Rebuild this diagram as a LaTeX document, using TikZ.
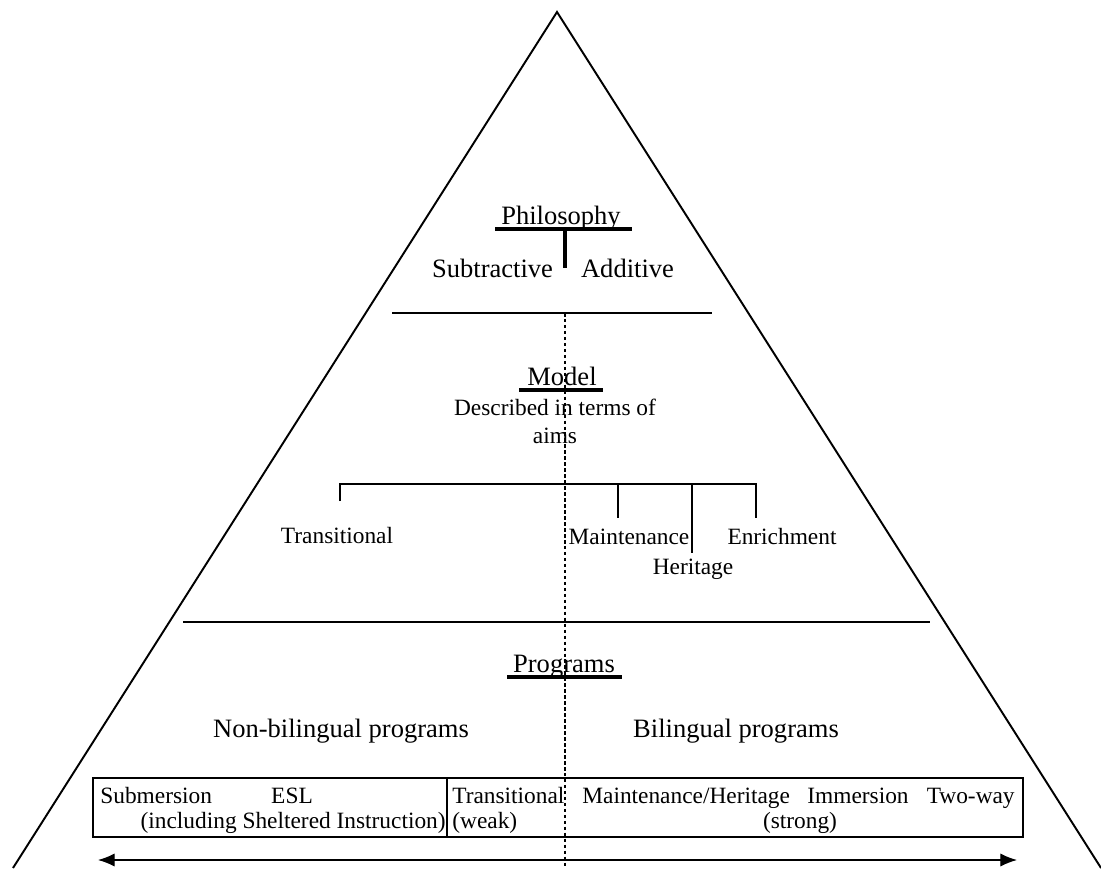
\documentclass[tikz,border=0pt]{standalone}
\usepackage{fontspec}
\setmainfont{Liberation Serif}
\usepackage{tikz}
\usetikzlibrary{arrows.meta}
\tikzset{>={Latex[length=9.5pt,width=7.5pt]}}
\tikzstyle{sideline}=[line width=1.1pt]
\tikzstyle{divider}=[line width=0.9pt]
\tikzstyle{uline}=[line width=2.2pt]
\tikzstyle{branch}=[line width=0.7pt]
\tikzstyle{midline}=[line width=0.6pt,dash pattern=on 2pt off 1.4pt]
\tikzstyle{head}=[font=\fontsize{15.1}{18}\selectfont,inner sep=0pt,anchor=base]
\tikzstyle{item}=[font=\fontsize{13.3}{15}\selectfont,inner sep=0pt,anchor=base]

\begin{document}
\begin{tikzpicture}[x=0.02cm,y=-0.02cm]
  \useasboundingbox (0,0) rectangle (1101,868);
  \def\cx{565}
  \coordinate (apex) at (557,12);
  \coordinate (bl) at (13,868);
  \coordinate (br) at (1101,868);

  % pyramid
  \draw[sideline] (bl) -- (apex) -- (br);
  \coordinate (d1l) at (392,313);
  \coordinate (d1r) at (712,313);
  \coordinate (d2l) at (183,622);
  \coordinate (d2r) at (930,622);
  \draw[divider] (d1l) -- (d1r);
  \draw[divider] (d2l) -- (d2r);
  \coordinate (mtop) at (\cx,313);
  \coordinate (mbot) at (\cx,868);
  \draw[midline] (mtop) -- (mbot);

  % Philosophy
  \node[head] (phil) at (561,224) {Philosophy};
  \coordinate (philL) at (495,229);
  \coordinate (philR) at (632,229);
  \coordinate (philM) at (\cx,229);
  \coordinate (philD) at (\cx,268);
  \draw[uline] (philL) -- (philR);
  \draw[uline] (philM) -- (philD);
  \node[head] (sub) at (492.5,277) {Subtractive};
  \node[head] (add) at (627.5,277) {Additive};

  % Model
  \node[head] (model) at (562,385) {Model};
  \coordinate (modelL) at (519,390);
  \coordinate (modelR) at (603,390);
  \draw[uline] (modelL) -- (modelR);
  \node[item] (desc) at (555,415) {Described in terms of};
  \node[item] (aims) at (555,443) {aims};

  \coordinate (bT) at (340,484);
  \coordinate (bM) at (618,484);
  \coordinate (bH) at (692,484);
  \coordinate (bE) at (756,484);
  \coordinate (tT) at (340,501);
  \coordinate (tM) at (618,518);
  \coordinate (tH) at (692,553);
  \coordinate (tE) at (756,518);
  \draw[branch] (tT) -- (bT) -- (bE) -- (tE);
  \draw[branch] (bM) -- (tM);
  \draw[branch] (bH) -- (tH);
  \node[item] (trans) at (337,543) {Transitional};
  \node[item] (maint) at (629,544) {Maintenance};
  \node[item] (herit) at (693,574) {Heritage};
  \node[item] (enrich) at (782,544) {Enrichment};

  % Programs
  \node[head] (prog) at (564,672) {Programs};
  \coordinate (progL) at (507,677);
  \coordinate (progR) at (622,677);
  \draw[uline] (progL) -- (progR);
  \node[head] (nonbil) at (341,737) {Non-bilingual programs};
  \node[head] (bil) at (736,737) {Bilingual programs};

  \coordinate (boxNW) at (93,778);
  \coordinate (boxSE) at (1023,837);
  \coordinate (sepT) at (447,778);
  \coordinate (sepB) at (447,837);
  \draw[branch] (boxNW) rectangle (boxSE);
  \draw[branch] (sepT) -- (sepB);
  \node[item,anchor=base west] (subm) at (100,803) {Submersion};
  \node[item] (esl) at (292,803) {ESL};
  \node[item,anchor=base east] (shelt) at (446,828) {(including Sheltered Instruction)};
  \node[item,anchor=base west] (transb) at (452,803) {Transitional};
  \node[item,anchor=base west] (weak) at (452,828) {(weak)};
  \node[item,anchor=base west] (mainb) at (582,803) {Maintenance/Heritage};
  \node[item] (immer) at (858,803) {Immersion};
  \node[item,anchor=base east] (twoway) at (1015,803) {Two-way};
  \node[item] (strong) at (800,828) {(strong)};

  \coordinate (arrL) at (98,860);
  \coordinate (arrR) at (1017,860);
  \draw[<->,branch] (arrL) -- (arrR);
\end{tikzpicture}
\end{document}
